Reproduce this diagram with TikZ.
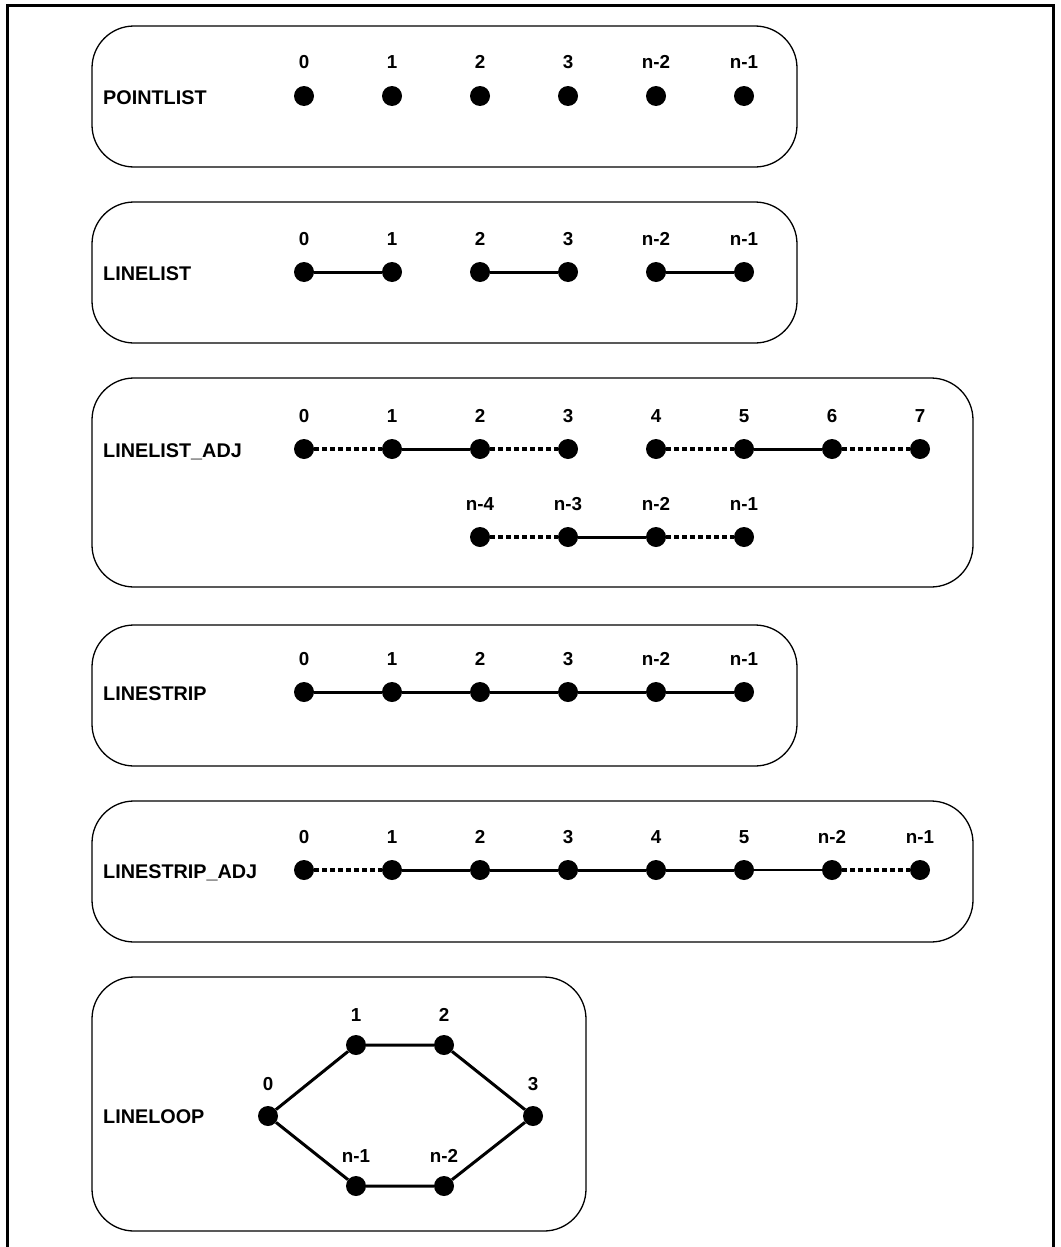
\documentclass[tikz,border=0pt]{standalone}
\usepackage{fontspec}
\setmainfont{Liberation Sans}
\newcommand{\titlefnt}{\fontsize{19.8}{22}\selectfont\bfseries}
\newcommand{\numfnt}{\fontsize{18.8}{21}\selectfont\bfseries}
\begin{document}
\begin{tikzpicture}[x=1pt,y=-1pt,
  dot/.style={circle,fill=black,minimum size=20pt,inner sep=0pt},
  num/.style={font=\numfnt,inner sep=0pt,anchor=base},
  title/.style={font=\titlefnt,inner sep=0pt,anchor=base west},
  group/.style={draw,line width=1.3pt,rounded corners=42pt},
  link/.style={line width=3pt},
  adj/.style={line width=3.6pt,dash pattern=on 5pt off 3pt},
  frame/.style={line width=3pt}]
\useasboundingbox (0,0) rectangle (1060,1247);
% outer frame (open at the bottom edge of the page)
\coordinate (fbl) at (7,1262);
\coordinate (ftl) at (7,6);
\coordinate (ftr) at (1053,6);
\coordinate (fbr) at (1053,1262);
\draw[frame] (fbl) -- (ftl) -- (ftr) -- (fbr);

% group boxes
\draw[group] (92,26) rectangle (797,167);
\draw[group] (92,202) rectangle (797,343);
\draw[group] (92,378) rectangle (973,587);
\draw[group] (92,625) rectangle (797,766);
\draw[group] (92,801) rectangle (973,942);
\draw[group] (92,977) rectangle (586,1231);

% POINTLIST
\node[title] (t1) at (103,104) {POINTLIST};
\foreach \i/\t in {0/0,1/1,2/2,3/3,4/n-2,5/n-1}{
  \node[dot] (a\i) at ({304+88*\i},96) {};
  \node[num] (al\i) at ({304+88*\i},69) {\t};
}

% LINELIST
\node[title] (t2) at (103,280) {LINELIST};
\foreach \i/\t in {0/0,1/1,2/2,3/3,4/n-2,5/n-1}{
  \node[dot] (b\i) at ({304+88*\i},272) {};
  \node[num] (bl\i) at ({304+88*\i},245) {\t};
}
\draw[link] (b0) -- (b1);
\draw[link] (b2) -- (b3);
\draw[link] (b4) -- (b5);

% LINELIST_ADJ
\node[title] (t3) at (103,457) {LINELIST\_ADJ};
\foreach \i in {0,...,7}{
  \node[dot] (c\i) at ({304+88*\i},449) {};
  \node[num] (cl\i) at ({304+88*\i},422) {\i};
}
\foreach \i/\t in {2/n-4,3/n-3,4/n-2,5/n-1}{
  \node[dot] (d\i) at ({304+88*\i},537) {};
  \node[num] (dl\i) at ({304+88*\i},510) {\t};
}
\draw[adj] (c0) -- (c1);
\draw[link] (c1) -- (c2);
\draw[adj] (c2) -- (c3);
\draw[adj] (c4) -- (c5);
\draw[link] (c5) -- (c6);
\draw[adj] (c6) -- (c7);
\draw[adj] (d2) -- (d3);
\draw[link] (d3) -- (d4);
\draw[adj] (d4) -- (d5);

% LINESTRIP
\node[title] (t4) at (103,700) {LINESTRIP};
\foreach \i/\t in {0/0,1/1,2/2,3/3,4/n-2,5/n-1}{
  \node[dot] (e\i) at ({304+88*\i},692) {};
  \node[num] (el\i) at ({304+88*\i},665) {\t};
}
\draw[link] (e0) -- (e1) -- (e2) -- (e3) -- (e4) -- (e5);

% LINESTRIP_ADJ
\node[title] (t5) at (103,878) {LINESTRIP\_ADJ};
\foreach \i/\t in {0/0,1/1,2/2,3/3,4/4,5/5,6/n-2,7/n-1}{
  \node[dot] (f\i) at ({304+88*\i},870) {};
  \node[num] (fl\i) at ({304+88*\i},843) {\t};
}
\draw[adj] (f0) -- (f1);
\draw[link] (f1) -- (f2) -- (f3) -- (f4) -- (f5);
\draw[line width=2.2pt] (f5) -- (f6);
\draw[adj] (f6) -- (f7);

% LINELOOP
\node[title] (t6) at (103,1123) {LINELOOP};
\node[dot] (g0) at (268,1116) {};
\node[dot] (g1) at (356,1045) {};
\node[dot] (g2) at (444,1045) {};
\node[dot] (g3) at (533,1116) {};
\node[dot] (g4) at (444,1186) {};
\node[dot] (g5) at (356,1186) {};
\node[num] (gl0) at (268,1090) {0};
\node[num] (gl1) at (356,1021) {1};
\node[num] (gl2) at (444,1021) {2};
\node[num] (gl3) at (533,1090) {3};
\node[num] (gl4) at (444,1162) {n-2};
\node[num] (gl5) at (356,1162) {n-1};
\draw[link] (g0) -- (g1) -- (g2) -- (g3) -- (g4) -- (g5) -- (g0);
\end{tikzpicture}
\end{document}
